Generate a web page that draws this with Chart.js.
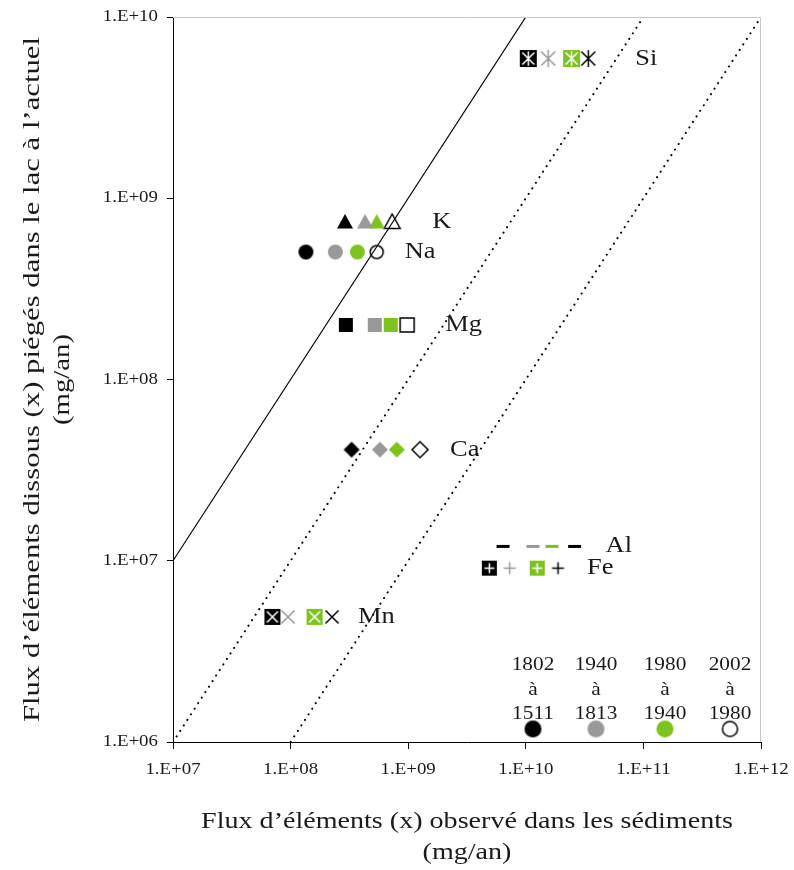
<!DOCTYPE html>
<html>
<head>
<meta charset="utf-8">
<script src="https://cdn.jsdelivr.net/npm/chart.js@4.4.0/dist/chart.umd.min.js"></script>
<style>
body{margin:0;background:#fff;}
canvas{display:block;}
</style>
</head>
<body>
<canvas id="fluxChart" width="794" height="870"></canvas>
<script>
// elements chimiques (une ligne par element)
const elements=["Si","K","Na","Mg","Ca","Al","Fe","Mn"];

// flux dissous piegés dans le lac a l'actuel (mg/an), axe y
const fluxDissous=[5.9e9,7.4e8,5.05e8,2.0e8,4.1e7,1.2e7,9.1e6,4.9e6];

// flux observes dans les sediments (mg/an), axe x, une liste par periode
const periodes=["1802 à 1511","1940 à 1813","1980 à 1940","2002 à 1980"];
const sed1511=[1.05e10,2.9e8,1.35e8,2.95e8,3.3e8,6.4e9,4.9e9,7.0e7];
const sed1813=[1.55e10,4.3e8,2.4e8,5.2e8,5.75e8,1.15e10,7.3e9,9.5e7];
const sed1940=[2.45e10,5.4e8,3.7e8,7.1e8,8.0e8,1.67e10,1.25e10,1.6e8];
const sed1980=[3.4e10,7.3e8,5.4e8,9.8e8,1.26e9,2.6e10,1.88e10,2.25e8];
const fluxSed=[sed1511,sed1813,sed1940,sed1980];

// droites de reference y=x, y=x/10, y=x/100
const droiteX=[[1e7,1e10],[1e7,1e11],[1e8,1e12]];
const droiteY=[[1e7,1e10],[1e6,1e10],[1e6,1e10]];

// graduations
const ticksX=[1e7,1e8,1e9,1e10,1e11,1e12];
const ticksY=[1e6,1e7,1e8,1e9,1e10];


const couleurs=["#000000","#999999","#7dc31e","#000000"];
const formes={Si:"asterisque",K:"triangle",Na:"cercle",Mg:"carre",Ca:"losange",Al:"tiret",Fe:"plus",Mn:"croix"};
const tailles={Si:17,K:16,Na:15,Mg:14,Ca:16,Al:13,Fe:15,Mn:16};
const decalLabel={Si:47,K:40,Na:28,Mg:38,Ca:30,Al:31,Fe:29,Mn:26};
const serif="'Liberation Serif','Times New Roman',serif";


function glyphe(ctx,forme,m,r){
ctx.beginPath();
if(forme==="asterisque"||forme==="croix"){
ctx.moveTo(m-r,m-r);ctx.lineTo(m+r,m+r);
ctx.moveTo(m+r,m-r);ctx.lineTo(m-r,m+r);
}
if(forme==="asterisque"){
ctx.moveTo(m,m-r*1.2);ctx.lineTo(m,m+r*1.2);
}
if(forme==="plus"){
ctx.moveTo(m-r,m);ctx.lineTo(m+r,m);
ctx.moveTo(m,m-r);ctx.lineTo(m,m+r);
}
ctx.stroke();
}


function marqueur(forme,p,taille){
const c=document.createElement("canvas");
const t=taille+4;
c.width=t;c.height=t;
const ctx=c.getContext("2d");
const m=t/2,r=taille/2;
const ouvert=(p===3);
const coul=couleurs[p];
ctx.fillStyle=coul;
ctx.strokeStyle=coul;
ctx.lineWidth=1.5;

if(forme==="asterisque"||forme==="plus"||forme==="croix"){
if(p===0||p===2){
ctx.fillRect(m-r,m-r,taille,taille);
ctx.strokeStyle="#ffffff";
glyphe(ctx,forme,m,r-2.5);
}
else{
glyphe(ctx,forme,m,r-1.5);
}
return c;
}

ctx.beginPath();
if(forme==="cercle"){
ctx.arc(m,m,ouvert?r-1:r,0,Math.PI*2);
}
else if(forme==="triangle"){
ctx.moveTo(m,m-r);ctx.lineTo(m+r,m+r*0.8);ctx.lineTo(m-r,m+r*0.8);ctx.closePath();
}
else if(forme==="carre"){
ctx.rect(m-r,m-r,taille,taille);
}
else if(forme==="losange"){
ctx.moveTo(m,m-r);ctx.lineTo(m+r,m);ctx.lineTo(m,m+r);ctx.lineTo(m-r,m);ctx.closePath();
}
else if(forme==="tiret"){
ctx.rect(m-r,m-1.5,taille,3);
}
if(ouvert&&forme!=="tiret"){
ctx.stroke();
}
else{
ctx.fill();
}
return c;
}


function texte(ctx,txt,x,y,taille,align,sx){
ctx.save();
ctx.translate(x,y);
ctx.scale(sx,1);
ctx.font=taille+"px "+serif;
ctx.fillStyle="#1a1a1a";
ctx.textAlign=align;
ctx.textBaseline="middle";
ctx.fillText(txt,0,0);
ctx.restore();
}


const datasets=[];

fluxSed.forEach(
(serie,p)=>{
datasets.push({
type:"scatter",
label:periodes[p],
order:1,
data:elements.map((e,i)=>({x:serie[i],y:fluxDissous[i]})),
pointStyle:elements.map(e=>marqueur(formes[e],p,tailles[e])),
pointRadius:8
});
}
);

droiteX.forEach(
(xs,k)=>{
datasets.push({
type:"line",
label:"droite "+k,
order:2,
data:xs.map((x,j)=>({x:x,y:droiteY[k][j]})),
borderColor:"#000000",
borderWidth:k===0?1.2:2,
borderDash:k===0?[]:[0.1,6.5],
borderCapStyle:k===0?"butt":"round",
pointRadius:0,
fill:false
});
}
);


const textes={
id:"textes",
afterDraw(chart){
const ctx=chart.ctx;
const a=chart.chartArea;
const sx=chart.scales.x;
const sy=chart.scales.y;

// bord haut et droit
ctx.save();
ctx.strokeStyle="#c8c8c8";
ctx.lineWidth=1;
ctx.beginPath();
ctx.moveTo(a.left,a.top+0.5);
ctx.lineTo(a.right-0.5,a.top+0.5);
ctx.lineTo(a.right-0.5,a.bottom);
ctx.stroke();
ctx.restore();

// graduations
ticksX.forEach(v=>{
texte(ctx,"1.E+"+String(Math.log10(v)).padStart(2,"0"),sx.getPixelForValue(v),a.bottom+28,16,"center",1.18);
});
ticksY.forEach(v=>{
texte(ctx,"1.E+"+String(Math.log10(v)).padStart(2,"0"),a.left-15,sy.getPixelForValue(v),16,"right",1.18);
});

// noms des elements
elements.forEach((e,i)=>{
const xmax=Math.max(...fluxSed.map(s=>s[i]));
texte(ctx,e,sx.getPixelForValue(xmax)+decalLabel[e],sy.getPixelForValue(fluxDissous[i]),23,"left",1.15);
});

// legende des periodes
const colX=[a.right-228,a.right-165,a.right-96,a.right-31];
periodes.forEach((per,p)=>{
const morceaux=per.split(" ");
texte(ctx,morceaux[0],colX[p],a.bottom-77,19,"center",1.12);
texte(ctx,morceaux[1],colX[p],a.bottom-52,19,"center",1.12);
texte(ctx,morceaux[2],colX[p],a.bottom-28,19,"center",1.12);
const img=marqueur("cercle",p,17);
ctx.drawImage(img,colX[p]-img.width/2,a.bottom-13-img.height/2);
});

// titres des axes
const cx=(a.left+a.right)/2;
texte(ctx,"Flux d\u2019éléments (x) observé dans les sédiments",cx,822,24,"center",1.17);
texte(ctx,"(mg/an)",cx,853,24,"center",1.17);

ctx.save();
ctx.translate(33,(a.top+a.bottom)/2);
ctx.rotate(-Math.PI/2);
texte(ctx,"Flux d\u2019éléments dissous (x) piégés dans le lac à l\u2019actuel",0,0,24,"center",1.28);
ctx.restore();
ctx.save();
ctx.translate(63,(a.top+a.bottom)/2);
ctx.rotate(-Math.PI/2);
texte(ctx,"(mg/an)",0,0,24,"center",1.2);
ctx.restore();
}
};


new Chart(
document.getElementById("fluxChart"),
{
data:{datasets:datasets},
options:{
responsive:false,
animation:false,
layout:{padding:{top:17,right:33,left:0,bottom:0}},
plugins:{
legend:{display:false},
tooltip:{enabled:false}
},
scales:{
x:{
type:"logarithmic",
position:"bottom",
min:1e7,
max:1e12,
afterBuildTicks:s=>{s.ticks=ticksX.map(v=>({value:v}));},
afterFit:s=>{s.height=128;},
ticks:{display:false,autoSkip:false,maxRotation:0},
grid:{drawOnChartArea:false,drawTicks:true,tickLength:7,color:"#000000"},
border:{display:true,color:"#000000",width:1}
},
y:{
type:"logarithmic",
position:"left",
min:1e6,
max:1e10,
afterBuildTicks:s=>{s.ticks=ticksY.map(v=>({value:v}));},
afterFit:s=>{s.width=173;},
ticks:{display:false,autoSkip:false},
grid:{drawOnChartArea:false,drawTicks:true,tickLength:6,color:"#000000"},
border:{display:true,color:"#000000",width:1}
}
}
},
plugins:[textes]
}
);
</script>
</body>
</html>
